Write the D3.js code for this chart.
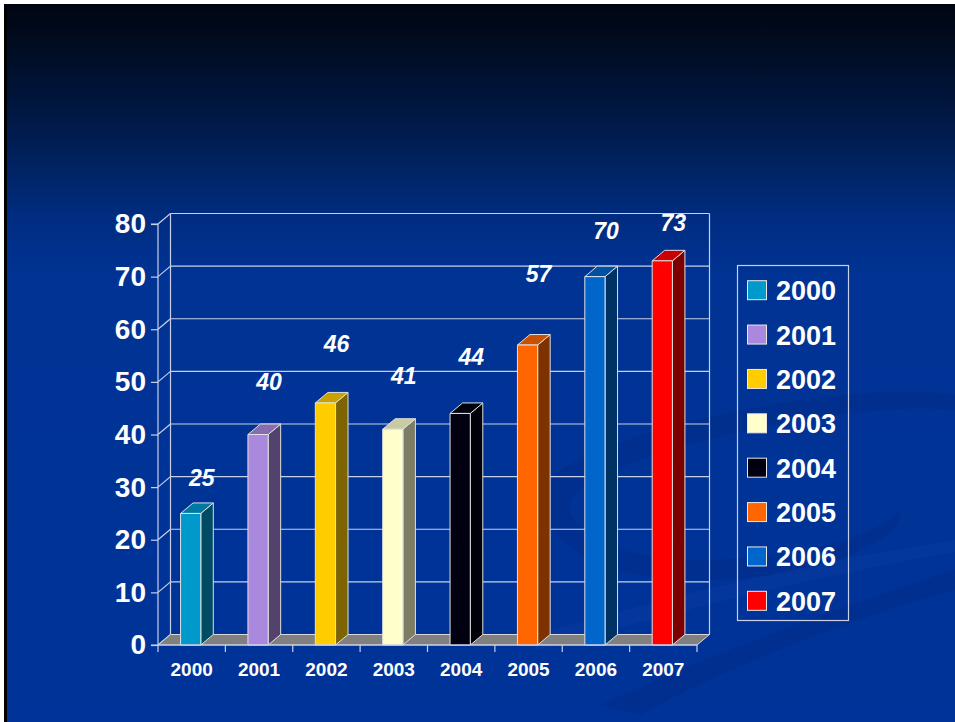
<!DOCTYPE html>
<html>
<head>
<meta charset="utf-8">
<script src="https://cdn.jsdelivr.net/npm/d3@7"></script>
<style>
  body { margin: 0; background: #fff; }
  svg { display: block; font-family: "Liberation Sans", Arial, sans-serif; }
</style>
</head>
<body>
<svg id="chart"></svg>
<script>
// chart values
var years = ['2000', '2001', '2002', '2003', '2004', '2005', '2006', '2007'];
var values = [25, 40, 46, 41, 44, 57, 70, 73];
var colors = ['#0099cc', '#aa88dd', '#ffcc00', '#ffffcc', '#000011', '#ff6600', '#0066cc', '#ff0000'];
var yTicks = [0, 10, 20, 30, 40, 50, 60, 70, 80];

var width = 955,
    height = 722,
    depthX = 12.5,
    depthY = -10.5;

var svg = d3.select('#chart')
    .attr('width', width)
    .attr('height', height);

// background gradient
var defs = svg.append('defs');
var grad = defs.append('linearGradient')
    .attr('id', 'bg')
    .attr('x1', 0).attr('y1', 0).attr('x2', 0).attr('y2', 1);
[[0, '#000512'], [0.06, '#000d22'], [0.14, '#00163f'], [0.22, '#00225f'], [0.3, '#002d82'], [0.38, '#003394'], [1, '#003399']]
    .forEach(function(s) {
        grad.append('stop').attr('offset', s[0]).attr('stop-color', s[1]);
    });

svg.append('rect')
    .attr('x', 4).attr('y', 4)
    .attr('width', width - 4).attr('height', height - 4)
    .attr('fill', 'url(#bg)');
svg.append('rect')
    .attr('x', 4).attr('y', 4)
    .attr('width', 3).attr('height', height - 4)
    .attr('fill', '#000');

// swoosh in the lower right
var swoosh = svg.append('g');
swoosh.append('path')
    .attr('d', 'M 560 470 C 640 420, 860 380, 955 395 L 955 410 C 860 400, 660 440, 585 485 C 540 515, 600 560, 700 560 C 800 560, 880 535, 900 510 C 905 540, 820 580, 700 580 C 560 580, 520 510, 560 470 Z')
    .attr('fill', '#002b88')
    .attr('opacity', 0.5);
swoosh.append('path')
    .attr('d', 'M 600 705 C 720 650, 860 600, 955 570 L 955 590 C 860 615, 730 665, 640 715 Z')
    .attr('fill', '#002b88')
    .attr('opacity', 0.45);
swoosh.append('path')
    .attr('d', 'M 520 640 C 650 600, 820 560, 955 540 L 955 552 C 820 575, 660 615, 540 650 Z')
    .attr('fill', '#0a3ca4')
    .attr('opacity', 0.4);

// scales
var x = d3.scaleBand()
    .domain(years)
    .range([158, 697]);

var y = d3.scaleLinear()
    .domain([0, 80])
    .range([645, 224]);

var barW = x.bandwidth() * 0.3,
    barOff = x.bandwidth() * 0.335,
    left = x.range()[0],
    right = x.range()[1],
    gridColor = '#c8d0e8';

var plot = svg.append('g');

// back wall gridlines
plot.selectAll('.grid')
    .data(yTicks)
    .enter().append('line')
    .attr('class', 'grid')
    .attr('x1', left + depthX)
    .attr('x2', right + depthX)
    .attr('y1', function(d) { return y(d) + depthY; })
    .attr('y2', function(d) { return y(d) + depthY; })
    .attr('stroke', gridColor)
    .attr('stroke-width', 1.2);

// side wall diagonals
plot.selectAll('.diag')
    .data(yTicks)
    .enter().append('line')
    .attr('x1', left)
    .attr('x2', left + depthX)
    .attr('y1', function(d) { return y(d); })
    .attr('y2', function(d) { return y(d) + depthY; })
    .attr('stroke', gridColor)
    .attr('stroke-width', 1.2);

// wall edges
[left + depthX, right + depthX].forEach(function(xx) {
    plot.append('line')
        .attr('x1', xx).attr('x2', xx)
        .attr('y1', y(80) + depthY).attr('y2', y(0) + depthY)
        .attr('stroke', gridColor)
        .attr('stroke-width', 1.2);
});

// floor
plot.append('polygon')
    .attr('points', [
        [left, y(0)], [right, y(0)],
        [right + depthX, y(0) + depthY], [left + depthX, y(0) + depthY]
    ].join(' '))
    .attr('fill', '#808080')
    .attr('stroke', '#d8d8d8')
    .attr('stroke-width', 1);

// bars
var bar = plot.selectAll('.bar')
    .data(values)
    .enter().append('g')
    .attr('class', 'bar');

function barFace(type) {
    return function(d, i) {
        var x0 = x(years[i]) + barOff,
            x1 = x0 + barW,
            yt = y(d),
            yb = y(0);
        if (type === 'front') return [[x0, yt], [x1, yt], [x1, yb], [x0, yb]].join(' ');
        if (type === 'side') return [[x1, yt], [x1 + depthX, yt + depthY], [x1 + depthX, yb + depthY], [x1, yb]].join(' ');
        return [[x0, yt], [x0 + depthX, yt + depthY], [x1 + depthX, yt + depthY], [x1, yt]].join(' ');
    };
}

bar.append('polygon')
    .attr('points', barFace('side'))
    .attr('fill', function(d, i) { return d3.rgb(colors[i]).darker(2); })
    .attr('stroke', '#e0e0e0')
    .attr('stroke-width', 1)
    .attr('stroke-linejoin', 'round');

bar.append('polygon')
    .attr('points', barFace('top'))
    .attr('fill', function(d, i) { return d3.rgb(colors[i]).darker(0.65); })
    .attr('stroke', '#e0e0e0')
    .attr('stroke-width', 1)
    .attr('stroke-linejoin', 'round');

bar.append('polygon')
    .attr('points', barFace('front'))
    .attr('fill', function(d, i) { return colors[i]; })
    .attr('stroke', '#e0e0e0')
    .attr('stroke-width', 1)
    .attr('stroke-linejoin', 'round');

// value labels, floated above the bars and squeezed near the top
bar.append('text')
    .attr('x', function(d, i) { return x(years[i]) + x.bandwidth() / 2 + 10; })
    .attr('y', function(d) { return y(Math.min(d * 1.21, 40 + d * 0.53)); })
    .attr('text-anchor', 'middle')
    .attr('fill', '#fff')
    .attr('font-size', 23)
    .attr('font-weight', 'bold')
    .attr('font-style', 'italic')
    .text(function(d) { return d; });

// y axis
var yAxis = d3.axisLeft(y)
    .tickValues(yTicks)
    .tickSize(7)
    .tickPadding(5)
    .tickFormat(d3.format('d'));

var gy = svg.append('g')
    .attr('transform', 'translate(' + left + ',0)')
    .call(yAxis);
gy.select('.domain').attr('stroke', gridColor).attr('stroke-width', 1.2).attr('d', 'M-7,' + y(80) + 'H0V' + y(0) + 'H-7');
gy.selectAll('.tick line').attr('stroke', gridColor).attr('stroke-width', 1.2);
gy.selectAll('.tick text')
    .attr('fill', '#fff')
    .attr('font-size', 28)
    .attr('font-weight', 'bold')
    .attr('font-family', '"Liberation Sans", Arial, sans-serif');

// x axis
var xAxis = d3.axisBottom(x)
    .tickSize(0)
    .tickPadding(18);

var gx = svg.append('g')
    .attr('transform', 'translate(0,' + y(0) + ')')
    .call(xAxis);
gx.select('.domain').attr('stroke', gridColor).attr('stroke-width', 1.2).attr('d', 'M' + left + ',0H' + right);
gx.selectAll('.tick text')
    .attr('fill', '#fff')
    .attr('font-size', 19)
    .attr('font-weight', 'bold')
    .attr('font-family', '"Liberation Sans", Arial, sans-serif');

// tick marks on band boundaries
gx.selectAll('.bound')
    .data(years.concat(['end']))
    .enter().append('line')
    .attr('x1', function(d, i) { return left + i * x.step(); })
    .attr('x2', function(d, i) { return left + i * x.step(); })
    .attr('y1', 0)
    .attr('y2', 7)
    .attr('stroke', gridColor)
    .attr('stroke-width', 1.2);

// legend
var legend = svg.append('g');
legend.append('rect')
    .attr('x', 737.5).attr('y', 265.5)
    .attr('width', 111).attr('height', 355)
    .attr('fill', 'none')
    .attr('stroke', '#c8d0e8')
    .attr('stroke-width', 1.2);

var ly = d3.scaleBand()
    .domain(years)
    .range([268, 623]);

var item = legend.selectAll('.item')
    .data(years)
    .enter().append('g')
    .attr('class', 'item')
    .attr('transform', function(d) { return 'translate(0,' + (ly(d) + ly.bandwidth() / 2) + ')'; });

item.append('rect')
    .attr('x', 747.5).attr('y', -9.5)
    .attr('width', 19).attr('height', 19)
    .attr('fill', function(d, i) { return colors[i]; })
    .attr('stroke', '#e8e8e8')
    .attr('stroke-width', 1);

item.append('text')
    .attr('x', 776)
    .attr('y', 10)
    .attr('fill', '#fff')
    .attr('font-size', 27)
    .attr('font-weight', 'bold')
    .text(function(d) { return d; });
</script>
</body>
</html>
